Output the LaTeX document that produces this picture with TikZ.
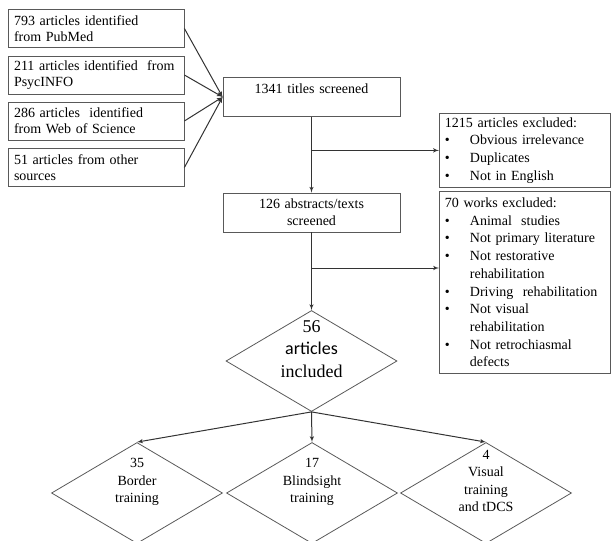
\documentclass[tikz,border=0pt]{standalone}
\usepackage{fontspec}
\setmainfont{Liberation Serif}
\newfontfamily\calibri{Carlito}
\usepackage{tikz}
\usetikzlibrary{arrows}
\usetikzlibrary{shapes,arrows}
\usetikzlibrary{positioning}
\tikzset{
    srcbox/.style={draw=black!65, line width=0.8pt, minimum width=176pt, minimum height=38pt,
        text width=164pt, align=left, inner sep=0pt, font=\fontsize{14}{16}\selectfont},
    stepbox/.style={draw=black!65, line width=0.8pt, minimum width=177pt, minimum height=39pt,
        text width=170pt, align=center, inner sep=0pt, font=\fontsize{14}{17}\selectfont},
    exclbox/.style={draw=black!65, line width=0.8pt, anchor=north west, minimum width=171pt,
        text width=160pt, align=left, inner xsep=5.5pt, inner ysep=0pt, font=\fontsize{14}{17.7}\selectfont},
    choice/.style={draw=black!65, line width=0.8pt, shape=diamond, minimum width=171pt,
        minimum height=101pt, inner sep=0pt},
    choicetext/.style={align=center, font=\fontsize{14}{17.5}\selectfont},
}
\tikzstyle{line} = [draw, -latex', black!80, line width=1pt]
\newcommand{\bul}[1]{\makebox[25pt][l]{\textbullet}#1}
\newcommand{\cont}[1]{\hspace*{25pt}#1}

\begin{document}
\begin{tikzpicture}[x=1pt, y=-1pt]
	\useasboundingbox (0,0) rectangle (611,541);
	% sources
	\node[srcbox] (pubmed) at (96,28.5) {793 articles identified\\from PubMed};
	\node[srcbox] (psyc) at (96,75) {211 articles identified\ \ from\\PsycINFO};
	\node[srcbox] (wos) at (96,121) {286 articles\ \ identified\\from Web of Science};
	\node[srcbox] (other) at (96,167.5) {51 articles from other\\sources};
	% screening
	\node[stepbox] (titles) at (311.5,97) {1341 titles screened\\~};
	\node[stepbox] (abstr) at (311.5,212.5) {126 abstracts/texts\\screened};
	\node[exclbox, minimum height=74pt] (excla) at (439,113) {1215 articles excluded:\\
		\bul{Obvious irrelevance}\\\bul{Duplicates}\\\bul{Not in English}};
	\node[exclbox, minimum height=182pt] (exclb) at (439,191) {70 works excluded:\\
		\bul{Animal\ \ studies}\\\bul{Not primary literature}\\\bul{Not restorative}\\
		\cont{rehabilitation}\\\bul{Driving\ \ rehabilitation}\\\bul{Not visual}\\
		\cont{rehabilitation}\\\bul{Not retrochiasmal}\\\cont{defects}};
	% included
	\node[choice] (incl) at (311.5,361) {};
	\node[align=center, font=\fontsize{18}{22.5}\selectfont] (incltext) at (311.5,349)
		{56\\{\calibri articles}\\included};
	\node[choice] (border) at (137,493) {};
	\node[choice] (blind) at (312,493) {};
	\node[choice] (tdcs) at (486,493) {};
	\node[choicetext] (bordertext) at (137,482) {35\\Border\\training};
	\node[choicetext] (blindtext) at (312,482) {17\\Blindsight\\training};
	\node[choicetext] (tdcstext) at (486,481) {4\\Visual\\training\\and tDCS};
	% connectors
	\draw[line] (pubmed.east) -- (titles.west);
	\draw[line] (psyc.east) -- (titles.west);
	\draw[line] (wos.east) -- (titles.west);
	\draw[line] (other.east) -- (titles.west);
	\draw[line] (titles.south) -- (abstr.north);
	\coordinate (ja) at (titles.south |- excla.west);
	\draw[line] (ja) -- (excla.west);
	\draw[line] (abstr.south) -- (incl.north);
	\coordinate (jb) at (311.5,268);
	\draw[line] (jb) -- (exclb.west |- jb);
	\draw[line] (incl.south) -- (border.north);
	\draw[line] (incl.south) -- (blind.north);
	\draw[line] (incl.south) -- (tdcs.north);
\end{tikzpicture}
\end{document}
